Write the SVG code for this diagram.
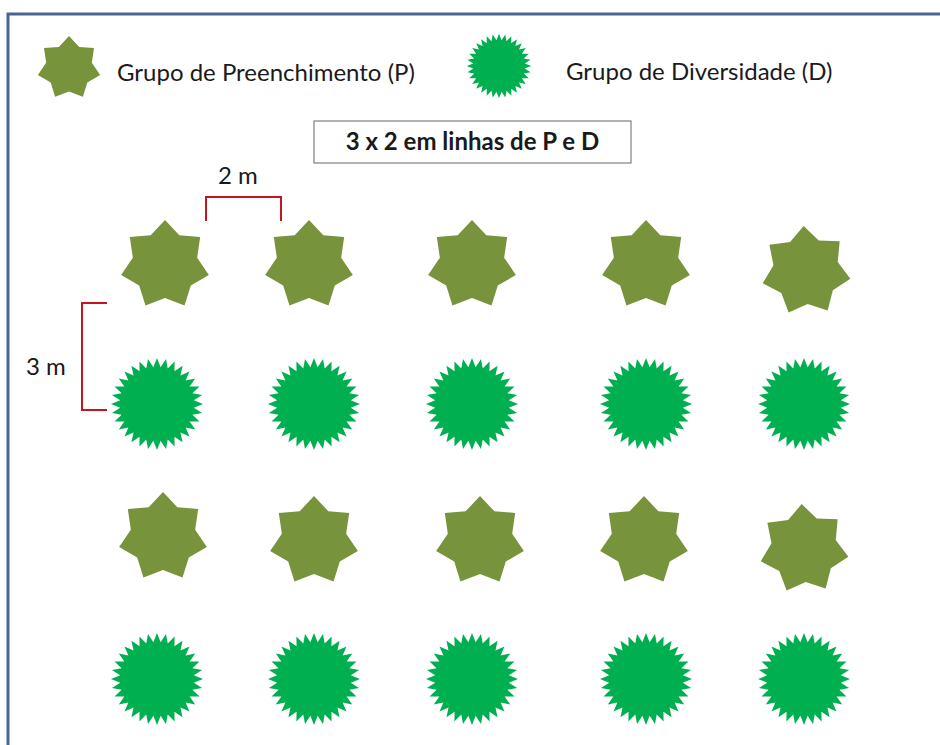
<svg xmlns="http://www.w3.org/2000/svg" xmlns:xlink="http://www.w3.org/1999/xlink" width="940" height="745" viewBox="0 0 940 745">
<style>
.p{fill:#77933c}
.d{fill:#00b050}
.lbl{font-family:Lato,"Liberation Sans",sans-serif;font-size:24px;fill:#1a1a1a}
.ttl{font-family:Lato,"Liberation Sans",sans-serif;font-size:24px;font-weight:bold;fill:#1a1a1a}
.dim{fill:none;stroke:#c8141e;stroke-width:2}
</style>
<defs>
<path id="star7" d="M0,-45 L14.32,-29.73 L35.18,-28.06 L32.17,-7.34 L43.87,10.01 L25.8,20.58 L19.53,40.54 L0,33 L-19.53,40.54 L-25.8,20.58 L-43.87,10.01 L-32.17,-7.34 L-35.18,-28.06 L-14.32,-29.73 Z"/>
<path id="star32" d="M0,-46 L3.63,-36.82 L8.97,-45.12 L10.74,-35.41 L17.6,-42.5 L17.44,-32.63 L25.56,-38.25 L23.47,-28.6 L32.53,-32.53 L28.6,-23.47 L38.25,-25.56 L32.63,-17.44 L42.5,-17.6 L35.41,-10.74 L45.12,-8.97 L36.82,-3.63 L46,0 L36.82,3.63 L45.12,8.97 L35.41,10.74 L42.5,17.6 L32.63,17.44 L38.25,25.56 L28.6,23.47 L32.53,32.53 L23.47,28.6 L25.56,38.25 L17.44,32.63 L17.6,42.5 L10.74,35.41 L8.97,45.12 L3.63,36.82 L0,46 L-3.63,36.82 L-8.97,45.12 L-10.74,35.41 L-17.6,42.5 L-17.44,32.63 L-25.56,38.25 L-23.47,28.6 L-32.53,32.53 L-28.6,23.47 L-38.25,25.56 L-32.63,17.44 L-42.5,17.6 L-35.41,10.74 L-45.12,8.97 L-36.82,3.63 L-46,0 L-36.82,-3.63 L-45.12,-8.97 L-35.41,-10.74 L-42.5,-17.6 L-32.63,-17.44 L-38.25,-25.56 L-28.6,-23.47 L-32.53,-32.53 L-23.47,-28.6 L-25.56,-38.25 L-17.44,-32.63 L-17.6,-42.5 L-10.74,-35.41 L-8.97,-45.12 L-3.63,-36.82 Z"/>
</defs>
<rect x="0" y="0" width="940" height="745" fill="#ffffff"/>
<path d="M8,745 L8,14 L940,14" fill="none" stroke="#4a6590" stroke-width="3"/>

<g id="legend">
  <g id="legend-p"><use xlink:href="#star7" class="p" transform="translate(69,68) scale(0.71)"/><text class="lbl" x="117" y="81">Grupo de Preenchimento (P)</text></g>
  <g id="legend-d"><use xlink:href="#star32" class="d" transform="translate(499,66) scale(0.7)"/><text class="lbl" x="566" y="80">Grupo de Diversidade (D)</text></g>
</g>

<g id="title">
  <rect x="314" y="121" width="317" height="42" fill="#ffffff" stroke="#7f7f7f" stroke-width="1.2"/>
  <text class="ttl" x="472.5" y="150" text-anchor="middle">3 x 2 em linhas de P e D</text>
</g>

<g id="connectors">
  <path class="dim" d="M206,221 L206,197 L281,197 L281,221"/>
  <path class="dim" d="M107,303 L82,303 L82,410 L107,410"/>
  <text class="lbl" x="218" y="184">2 m</text>
  <text class="lbl" x="26" y="375">3 m</text>
</g>

<g id="row1">
  <g id="p-1-1"><use xlink:href="#star7" class="p" transform="translate(165,265)"/></g>
  <g id="p-1-2"><use xlink:href="#star7" class="p" transform="translate(309,265)"/></g>
  <g id="p-1-3"><use xlink:href="#star7" class="p" transform="translate(472,265)"/></g>
  <g id="p-1-4"><use xlink:href="#star7" class="p" transform="translate(646,265)"/></g>
  <g id="p-1-5"><use xlink:href="#star7" class="p" transform="translate(806,271) rotate(-3)"/></g>
</g>
<g id="row2">
  <g id="d-2-1"><use xlink:href="#star32" class="d" transform="translate(157,404)"/></g>
  <g id="d-2-2"><use xlink:href="#star32" class="d" transform="translate(314,404)"/></g>
  <g id="d-2-3"><use xlink:href="#star32" class="d" transform="translate(472,404)"/></g>
  <g id="d-2-4"><use xlink:href="#star32" class="d" transform="translate(646,404)"/></g>
  <g id="d-2-5"><use xlink:href="#star32" class="d" transform="translate(804,404)"/></g>
</g>
<g id="row3">
  <g id="p-3-1"><use xlink:href="#star7" class="p" transform="translate(163,537)"/></g>
  <g id="p-3-2"><use xlink:href="#star7" class="p" transform="translate(314,541)"/></g>
  <g id="p-3-3"><use xlink:href="#star7" class="p" transform="translate(480,541)"/></g>
  <g id="p-3-4"><use xlink:href="#star7" class="p" transform="translate(644,541)"/></g>
  <g id="p-3-5"><use xlink:href="#star7" class="p" transform="translate(804,549) rotate(-3)"/></g>
</g>
<g id="row4">
  <g id="d-4-1"><use xlink:href="#star32" class="d" transform="translate(157,679)"/></g>
  <g id="d-4-2"><use xlink:href="#star32" class="d" transform="translate(314,679)"/></g>
  <g id="d-4-3"><use xlink:href="#star32" class="d" transform="translate(472,679)"/></g>
  <g id="d-4-4"><use xlink:href="#star32" class="d" transform="translate(646,679)"/></g>
  <g id="d-4-5"><use xlink:href="#star32" class="d" transform="translate(804,679)"/></g>
</g>
</svg>
